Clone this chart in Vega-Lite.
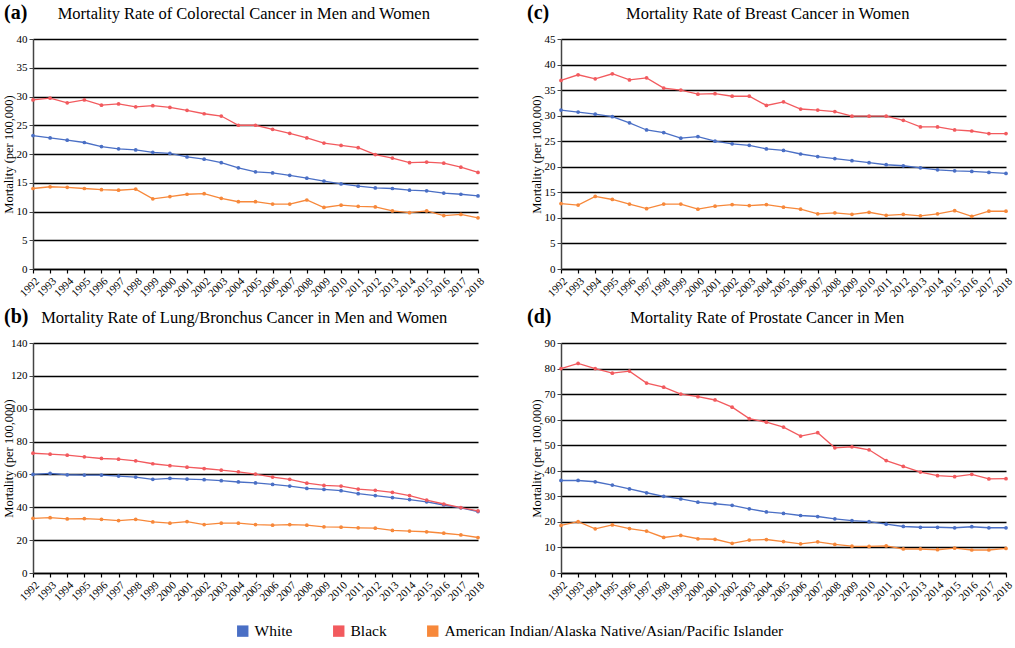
{
"$schema": "https://vega.github.io/schema/vega-lite/v6.json",
"padding": {"left": 2, "top": 3, "right": 2, "bottom": 0},
"background": "white",
"datasets": {
"colorectal": [
{"year":1992,"race":"White","rate":23.2},{"year":1993,"race":"White","rate":22.8},{"year":1994,"race":"White","rate":22.4},{"year":1995,"race":"White","rate":22.0},{"year":1996,"race":"White","rate":21.3},{"year":1997,"race":"White","rate":20.9},{"year":1998,"race":"White","rate":20.7},{"year":1999,"race":"White","rate":20.3},{"year":2000,"race":"White","rate":20.1},{"year":2001,"race":"White","rate":19.5},{"year":2002,"race":"White","rate":19.1},{"year":2003,"race":"White","rate":18.5},{"year":2004,"race":"White","rate":17.6},{"year":2005,"race":"White","rate":16.9},{"year":2006,"race":"White","rate":16.7},{"year":2007,"race":"White","rate":16.3},{"year":2008,"race":"White","rate":15.8},{"year":2009,"race":"White","rate":15.3},{"year":2010,"race":"White","rate":14.8},{"year":2011,"race":"White","rate":14.4},{"year":2012,"race":"White","rate":14.1},{"year":2013,"race":"White","rate":14.0},{"year":2014,"race":"White","rate":13.7},{"year":2015,"race":"White","rate":13.6},{"year":2016,"race":"White","rate":13.2},{"year":2017,"race":"White","rate":13.0},{"year":2018,"race":"White","rate":12.7},
{"year":1992,"race":"Black","rate":29.4},{"year":1993,"race":"Black","rate":29.7},{"year":1994,"race":"Black","rate":28.9},{"year":1995,"race":"Black","rate":29.4},{"year":1996,"race":"Black","rate":28.5},{"year":1997,"race":"Black","rate":28.7},{"year":1998,"race":"Black","rate":28.2},{"year":1999,"race":"Black","rate":28.4},{"year":2000,"race":"Black","rate":28.1},{"year":2001,"race":"Black","rate":27.6},{"year":2002,"race":"Black","rate":27.0},{"year":2003,"race":"Black","rate":26.6},{"year":2004,"race":"Black","rate":25.0},{"year":2005,"race":"Black","rate":25.0},{"year":2006,"race":"Black","rate":24.3},{"year":2007,"race":"Black","rate":23.6},{"year":2008,"race":"Black","rate":22.8},{"year":2009,"race":"Black","rate":21.9},{"year":2010,"race":"Black","rate":21.5},{"year":2011,"race":"Black","rate":21.1},{"year":2012,"race":"Black","rate":19.9},{"year":2013,"race":"Black","rate":19.3},{"year":2014,"race":"Black","rate":18.5},{"year":2015,"race":"Black","rate":18.6},{"year":2016,"race":"Black","rate":18.4},{"year":2017,"race":"Black","rate":17.7},{"year":2018,"race":"Black","rate":16.8},
{"year":1992,"race":"American Indian/Alaska Native/Asian/Pacific Islander","rate":14.0},{"year":1993,"race":"American Indian/Alaska Native/Asian/Pacific Islander","rate":14.3},{"year":1994,"race":"American Indian/Alaska Native/Asian/Pacific Islander","rate":14.2},{"year":1995,"race":"American Indian/Alaska Native/Asian/Pacific Islander","rate":14.0},{"year":1996,"race":"American Indian/Alaska Native/Asian/Pacific Islander","rate":13.8},{"year":1997,"race":"American Indian/Alaska Native/Asian/Pacific Islander","rate":13.7},{"year":1998,"race":"American Indian/Alaska Native/Asian/Pacific Islander","rate":13.9},{"year":1999,"race":"American Indian/Alaska Native/Asian/Pacific Islander","rate":12.2},{"year":2000,"race":"American Indian/Alaska Native/Asian/Pacific Islander","rate":12.6},{"year":2001,"race":"American Indian/Alaska Native/Asian/Pacific Islander","rate":13.0},{"year":2002,"race":"American Indian/Alaska Native/Asian/Pacific Islander","rate":13.1},{"year":2003,"race":"American Indian/Alaska Native/Asian/Pacific Islander","rate":12.3},{"year":2004,"race":"American Indian/Alaska Native/Asian/Pacific Islander","rate":11.7},{"year":2005,"race":"American Indian/Alaska Native/Asian/Pacific Islander","rate":11.7},{"year":2006,"race":"American Indian/Alaska Native/Asian/Pacific Islander","rate":11.3},{"year":2007,"race":"American Indian/Alaska Native/Asian/Pacific Islander","rate":11.3},{"year":2008,"race":"American Indian/Alaska Native/Asian/Pacific Islander","rate":12.0},{"year":2009,"race":"American Indian/Alaska Native/Asian/Pacific Islander","rate":10.7},{"year":2010,"race":"American Indian/Alaska Native/Asian/Pacific Islander","rate":11.1},{"year":2011,"race":"American Indian/Alaska Native/Asian/Pacific Islander","rate":10.9},{"year":2012,"race":"American Indian/Alaska Native/Asian/Pacific Islander","rate":10.8},{"year":2013,"race":"American Indian/Alaska Native/Asian/Pacific Islander","rate":10.1},{"year":2014,"race":"American Indian/Alaska Native/Asian/Pacific Islander","rate":9.8},{"year":2015,"race":"American Indian/Alaska Native/Asian/Pacific Islander","rate":10.1},{"year":2016,"race":"American Indian/Alaska Native/Asian/Pacific Islander","rate":9.3},{"year":2017,"race":"American Indian/Alaska Native/Asian/Pacific Islander","rate":9.5},{"year":2018,"race":"American Indian/Alaska Native/Asian/Pacific Islander","rate":8.9}
],
"lung": [
{"year":1992,"race":"White","rate":60.0},{"year":1993,"race":"White","rate":60.6},{"year":1994,"race":"White","rate":59.8},{"year":1995,"race":"White","rate":59.6},{"year":1996,"race":"White","rate":59.6},{"year":1997,"race":"White","rate":59.0},{"year":1998,"race":"White","rate":58.4},{"year":1999,"race":"White","rate":57.0},{"year":2000,"race":"White","rate":57.6},{"year":2001,"race":"White","rate":57.2},{"year":2002,"race":"White","rate":56.8},{"year":2003,"race":"White","rate":56.2},{"year":2004,"race":"White","rate":55.4},{"year":2005,"race":"White","rate":54.8},{"year":2006,"race":"White","rate":53.9},{"year":2007,"race":"White","rate":52.9},{"year":2008,"race":"White","rate":51.5},{"year":2009,"race":"White","rate":50.9},{"year":2010,"race":"White","rate":50.1},{"year":2011,"race":"White","rate":48.3},{"year":2012,"race":"White","rate":47.1},{"year":2013,"race":"White","rate":45.9},{"year":2014,"race":"White","rate":44.7},{"year":2015,"race":"White","rate":43.3},{"year":2016,"race":"White","rate":41.4},{"year":2017,"race":"White","rate":39.6},{"year":2018,"race":"White","rate":37.4},
{"year":1992,"race":"Black","rate":72.9},{"year":1993,"race":"Black","rate":72.3},{"year":1994,"race":"Black","rate":71.7},{"year":1995,"race":"Black","rate":70.7},{"year":1996,"race":"Black","rate":69.7},{"year":1997,"race":"Black","rate":69.3},{"year":1998,"race":"Black","rate":68.3},{"year":1999,"race":"Black","rate":66.5},{"year":2000,"race":"Black","rate":65.3},{"year":2001,"race":"Black","rate":64.4},{"year":2002,"race":"Black","rate":63.6},{"year":2003,"race":"Black","rate":62.6},{"year":2004,"race":"Black","rate":61.6},{"year":2005,"race":"Black","rate":60.2},{"year":2006,"race":"Black","rate":58.4},{"year":2007,"race":"Black","rate":57.0},{"year":2008,"race":"Black","rate":54.7},{"year":2009,"race":"Black","rate":53.3},{"year":2010,"race":"Black","rate":52.9},{"year":2011,"race":"Black","rate":51.1},{"year":2012,"race":"Black","rate":50.3},{"year":2013,"race":"Black","rate":49.1},{"year":2014,"race":"Black","rate":47.1},{"year":2015,"race":"Black","rate":44.4},{"year":2016,"race":"Black","rate":42.0},{"year":2017,"race":"Black","rate":39.8},{"year":2018,"race":"Black","rate":37.8},
{"year":1992,"race":"American Indian/Alaska Native/Asian/Pacific Islander","rate":33.3},{"year":1993,"race":"American Indian/Alaska Native/Asian/Pacific Islander","rate":33.7},{"year":1994,"race":"American Indian/Alaska Native/Asian/Pacific Islander","rate":32.9},{"year":1995,"race":"American Indian/Alaska Native/Asian/Pacific Islander","rate":33.1},{"year":1996,"race":"American Indian/Alaska Native/Asian/Pacific Islander","rate":32.7},{"year":1997,"race":"American Indian/Alaska Native/Asian/Pacific Islander","rate":31.9},{"year":1998,"race":"American Indian/Alaska Native/Asian/Pacific Islander","rate":32.7},{"year":1999,"race":"American Indian/Alaska Native/Asian/Pacific Islander","rate":31.1},{"year":2000,"race":"American Indian/Alaska Native/Asian/Pacific Islander","rate":30.3},{"year":2001,"race":"American Indian/Alaska Native/Asian/Pacific Islander","rate":31.3},{"year":2002,"race":"American Indian/Alaska Native/Asian/Pacific Islander","rate":29.5},{"year":2003,"race":"American Indian/Alaska Native/Asian/Pacific Islander","rate":30.3},{"year":2004,"race":"American Indian/Alaska Native/Asian/Pacific Islander","rate":30.3},{"year":2005,"race":"American Indian/Alaska Native/Asian/Pacific Islander","rate":29.5},{"year":2006,"race":"American Indian/Alaska Native/Asian/Pacific Islander","rate":29.1},{"year":2007,"race":"American Indian/Alaska Native/Asian/Pacific Islander","rate":29.5},{"year":2008,"race":"American Indian/Alaska Native/Asian/Pacific Islander","rate":29.1},{"year":2009,"race":"American Indian/Alaska Native/Asian/Pacific Islander","rate":28.1},{"year":2010,"race":"American Indian/Alaska Native/Asian/Pacific Islander","rate":27.9},{"year":2011,"race":"American Indian/Alaska Native/Asian/Pacific Islander","rate":27.5},{"year":2012,"race":"American Indian/Alaska Native/Asian/Pacific Islander","rate":27.3},{"year":2013,"race":"American Indian/Alaska Native/Asian/Pacific Islander","rate":25.9},{"year":2014,"race":"American Indian/Alaska Native/Asian/Pacific Islander","rate":25.5},{"year":2015,"race":"American Indian/Alaska Native/Asian/Pacific Islander","rate":25.1},{"year":2016,"race":"American Indian/Alaska Native/Asian/Pacific Islander","rate":24.2},{"year":2017,"race":"American Indian/Alaska Native/Asian/Pacific Islander","rate":23.2},{"year":2018,"race":"American Indian/Alaska Native/Asian/Pacific Islander","rate":21.6}
],
"breast": [
{"year":1992,"race":"White","rate":31.1},{"year":1993,"race":"White","rate":30.7},{"year":1994,"race":"White","rate":30.3},{"year":1995,"race":"White","rate":29.8},{"year":1996,"race":"White","rate":28.6},{"year":1997,"race":"White","rate":27.2},{"year":1998,"race":"White","rate":26.7},{"year":1999,"race":"White","rate":25.6},{"year":2000,"race":"White","rate":25.9},{"year":2001,"race":"White","rate":25.0},{"year":2002,"race":"White","rate":24.5},{"year":2003,"race":"White","rate":24.2},{"year":2004,"race":"White","rate":23.5},{"year":2005,"race":"White","rate":23.2},{"year":2006,"race":"White","rate":22.5},{"year":2007,"race":"White","rate":22.0},{"year":2008,"race":"White","rate":21.6},{"year":2009,"race":"White","rate":21.2},{"year":2010,"race":"White","rate":20.8},{"year":2011,"race":"White","rate":20.4},{"year":2012,"race":"White","rate":20.2},{"year":2013,"race":"White","rate":19.8},{"year":2014,"race":"White","rate":19.4},{"year":2015,"race":"White","rate":19.2},{"year":2016,"race":"White","rate":19.1},{"year":2017,"race":"White","rate":18.9},{"year":2018,"race":"White","rate":18.7},
{"year":1992,"race":"Black","rate":36.9},{"year":1993,"race":"Black","rate":38.0},{"year":1994,"race":"Black","rate":37.2},{"year":1995,"race":"Black","rate":38.2},{"year":1996,"race":"Black","rate":37.0},{"year":1997,"race":"Black","rate":37.4},{"year":1998,"race":"Black","rate":35.4},{"year":1999,"race":"Black","rate":35.0},{"year":2000,"race":"Black","rate":34.2},{"year":2001,"race":"Black","rate":34.3},{"year":2002,"race":"Black","rate":33.8},{"year":2003,"race":"Black","rate":33.8},{"year":2004,"race":"Black","rate":32.0},{"year":2005,"race":"Black","rate":32.7},{"year":2006,"race":"Black","rate":31.3},{"year":2007,"race":"Black","rate":31.1},{"year":2008,"race":"Black","rate":30.8},{"year":2009,"race":"Black","rate":29.9},{"year":2010,"race":"Black","rate":29.9},{"year":2011,"race":"Black","rate":29.9},{"year":2012,"race":"Black","rate":29.1},{"year":2013,"race":"Black","rate":27.8},{"year":2014,"race":"Black","rate":27.8},{"year":2015,"race":"Black","rate":27.2},{"year":2016,"race":"Black","rate":27.0},{"year":2017,"race":"Black","rate":26.5},{"year":2018,"race":"Black","rate":26.5},
{"year":1992,"race":"American Indian/Alaska Native/Asian/Pacific Islander","rate":12.8},{"year":1993,"race":"American Indian/Alaska Native/Asian/Pacific Islander","rate":12.5},{"year":1994,"race":"American Indian/Alaska Native/Asian/Pacific Islander","rate":14.2},{"year":1995,"race":"American Indian/Alaska Native/Asian/Pacific Islander","rate":13.6},{"year":1996,"race":"American Indian/Alaska Native/Asian/Pacific Islander","rate":12.7},{"year":1997,"race":"American Indian/Alaska Native/Asian/Pacific Islander","rate":11.8},{"year":1998,"race":"American Indian/Alaska Native/Asian/Pacific Islander","rate":12.7},{"year":1999,"race":"American Indian/Alaska Native/Asian/Pacific Islander","rate":12.7},{"year":2000,"race":"American Indian/Alaska Native/Asian/Pacific Islander","rate":11.7},{"year":2001,"race":"American Indian/Alaska Native/Asian/Pacific Islander","rate":12.3},{"year":2002,"race":"American Indian/Alaska Native/Asian/Pacific Islander","rate":12.6},{"year":2003,"race":"American Indian/Alaska Native/Asian/Pacific Islander","rate":12.4},{"year":2004,"race":"American Indian/Alaska Native/Asian/Pacific Islander","rate":12.6},{"year":2005,"race":"American Indian/Alaska Native/Asian/Pacific Islander","rate":12.1},{"year":2006,"race":"American Indian/Alaska Native/Asian/Pacific Islander","rate":11.7},{"year":2007,"race":"American Indian/Alaska Native/Asian/Pacific Islander","rate":10.8},{"year":2008,"race":"American Indian/Alaska Native/Asian/Pacific Islander","rate":11.0},{"year":2009,"race":"American Indian/Alaska Native/Asian/Pacific Islander","rate":10.7},{"year":2010,"race":"American Indian/Alaska Native/Asian/Pacific Islander","rate":11.1},{"year":2011,"race":"American Indian/Alaska Native/Asian/Pacific Islander","rate":10.5},{"year":2012,"race":"American Indian/Alaska Native/Asian/Pacific Islander","rate":10.7},{"year":2013,"race":"American Indian/Alaska Native/Asian/Pacific Islander","rate":10.4},{"year":2014,"race":"American Indian/Alaska Native/Asian/Pacific Islander","rate":10.8},{"year":2015,"race":"American Indian/Alaska Native/Asian/Pacific Islander","rate":11.4},{"year":2016,"race":"American Indian/Alaska Native/Asian/Pacific Islander","rate":10.3},{"year":2017,"race":"American Indian/Alaska Native/Asian/Pacific Islander","rate":11.3},{"year":2018,"race":"American Indian/Alaska Native/Asian/Pacific Islander","rate":11.3}
],
"prostate": [
{"year":1992,"race":"White","rate":36.2},{"year":1993,"race":"White","rate":36.2},{"year":1994,"race":"White","rate":35.7},{"year":1995,"race":"White","rate":34.4},{"year":1996,"race":"White","rate":32.9},{"year":1997,"race":"White","rate":31.4},{"year":1998,"race":"White","rate":30.0},{"year":1999,"race":"White","rate":29.0},{"year":2000,"race":"White","rate":27.7},{"year":2001,"race":"White","rate":27.1},{"year":2002,"race":"White","rate":26.5},{"year":2003,"race":"White","rate":25.1},{"year":2004,"race":"White","rate":23.9},{"year":2005,"race":"White","rate":23.3},{"year":2006,"race":"White","rate":22.5},{"year":2007,"race":"White","rate":22.1},{"year":2008,"race":"White","rate":21.2},{"year":2009,"race":"White","rate":20.5},{"year":2010,"race":"White","rate":20.1},{"year":2011,"race":"White","rate":19.1},{"year":2012,"race":"White","rate":18.2},{"year":2013,"race":"White","rate":17.9},{"year":2014,"race":"White","rate":17.9},{"year":2015,"race":"White","rate":17.7},{"year":2016,"race":"White","rate":18.1},{"year":2017,"race":"White","rate":17.7},{"year":2018,"race":"White","rate":17.7},
{"year":1992,"race":"Black","rate":80.0},{"year":1993,"race":"Black","rate":82.0},{"year":1994,"race":"Black","rate":80.0},{"year":1995,"race":"Black","rate":78.2},{"year":1996,"race":"Black","rate":79.0},{"year":1997,"race":"Black","rate":74.3},{"year":1998,"race":"Black","rate":72.7},{"year":1999,"race":"Black","rate":70.0},{"year":2000,"race":"Black","rate":69.0},{"year":2001,"race":"Black","rate":67.7},{"year":2002,"race":"Black","rate":64.9},{"year":2003,"race":"Black","rate":60.4},{"year":2004,"race":"Black","rate":59.0},{"year":2005,"race":"Black","rate":57.1},{"year":2006,"race":"Black","rate":53.6},{"year":2007,"race":"Black","rate":54.9},{"year":2008,"race":"Black","rate":49.0},{"year":2009,"race":"Black","rate":49.4},{"year":2010,"race":"Black","rate":48.2},{"year":2011,"race":"Black","rate":44.0},{"year":2012,"race":"Black","rate":41.7},{"year":2013,"race":"Black","rate":39.5},{"year":2014,"race":"Black","rate":38.1},{"year":2015,"race":"Black","rate":37.7},{"year":2016,"race":"Black","rate":38.6},{"year":2017,"race":"Black","rate":36.8},{"year":2018,"race":"Black","rate":36.9},
{"year":1992,"race":"American Indian/Alaska Native/Asian/Pacific Islander","rate":18.6},{"year":1993,"race":"American Indian/Alaska Native/Asian/Pacific Islander","rate":20.1},{"year":1994,"race":"American Indian/Alaska Native/Asian/Pacific Islander","rate":17.3},{"year":1995,"race":"American Indian/Alaska Native/Asian/Pacific Islander","rate":18.8},{"year":1996,"race":"American Indian/Alaska Native/Asian/Pacific Islander","rate":17.4},{"year":1997,"race":"American Indian/Alaska Native/Asian/Pacific Islander","rate":16.4},{"year":1998,"race":"American Indian/Alaska Native/Asian/Pacific Islander","rate":13.9},{"year":1999,"race":"American Indian/Alaska Native/Asian/Pacific Islander","rate":14.7},{"year":2000,"race":"American Indian/Alaska Native/Asian/Pacific Islander","rate":13.4},{"year":2001,"race":"American Indian/Alaska Native/Asian/Pacific Islander","rate":13.2},{"year":2002,"race":"American Indian/Alaska Native/Asian/Pacific Islander","rate":11.6},{"year":2003,"race":"American Indian/Alaska Native/Asian/Pacific Islander","rate":12.9},{"year":2004,"race":"American Indian/Alaska Native/Asian/Pacific Islander","rate":13.1},{"year":2005,"race":"American Indian/Alaska Native/Asian/Pacific Islander","rate":12.3},{"year":2006,"race":"American Indian/Alaska Native/Asian/Pacific Islander","rate":11.4},{"year":2007,"race":"American Indian/Alaska Native/Asian/Pacific Islander","rate":12.2},{"year":2008,"race":"American Indian/Alaska Native/Asian/Pacific Islander","rate":11.2},{"year":2009,"race":"American Indian/Alaska Native/Asian/Pacific Islander","rate":10.5},{"year":2010,"race":"American Indian/Alaska Native/Asian/Pacific Islander","rate":10.4},{"year":2011,"race":"American Indian/Alaska Native/Asian/Pacific Islander","rate":10.6},{"year":2012,"race":"American Indian/Alaska Native/Asian/Pacific Islander","rate":9.4},{"year":2013,"race":"American Indian/Alaska Native/Asian/Pacific Islander","rate":9.4},{"year":2014,"race":"American Indian/Alaska Native/Asian/Pacific Islander","rate":9.1},{"year":2015,"race":"American Indian/Alaska Native/Asian/Pacific Islander","rate":9.7},{"year":2016,"race":"American Indian/Alaska Native/Asian/Pacific Islander","rate":9.0},{"year":2017,"race":"American Indian/Alaska Native/Asian/Pacific Islander","rate":9.0},{"year":2018,"race":"American Indian/Alaska Native/Asian/Pacific Islander","rate":9.6}
]
},
"columns": 2,
"spacing": {"row": 8, "column": 41},
"resolve": {"scale": {"color": "shared"}, "legend": {"color": "shared"}},
"concat": [
{
"width": 445, "height": 230,
"data": {"name": "colorectal"},
"title": {"text": "(a)", "dx": -29, "subtitle": "\u200b\u00a0\u00a0\u00a0\u00a0\u00a0\u00a0\u00a0\u00a0\u00a0\u00a0\u00a0\u00a0\u00a0Mortality Rate of Colorectal Cancer in Men and Women"},
"mark": {"type": "line", "strokeWidth": 1.3, "point": {"filled": true, "size": 14}},
"encoding": {
"x": {"field": "year", "type": "ordinal", "scale": {"type": "point", "padding": 0}, "axis": {"title": null}},
"y": {"field": "rate", "type": "quantitative", "scale": {"domain": [0, 40]}, "axis": {"values": [0,5,10,15,20,25,30,35,40], "title": "Mortality (per 100,000)"}},
"color": {"field": "race", "type": "nominal", "scale": {"domain": ["White","Black","American Indian/Alaska Native/Asian/Pacific Islander"], "range": ["#4a6fc5","#f25a5e","#f7883a"]},
"legend": {"title": null, "orient": "none", "direction": "horizontal", "legendX": 202, "legendY": 584}}
}
},
{
"width": 445, "height": 230,
"data": {"name": "breast"},
"title": {"text": "(c)", "dx": -34, "subtitle": "\u200b\u00a0\u00a0\u00a0\u00a0\u00a0\u00a0\u00a0\u00a0\u00a0\u00a0\u00a0\u00a0\u00a0\u00a0\u00a0\u00a0\u00a0\u00a0\u00a0\u00a0\u00a0\u00a0\u00a0\u00a0Mortality Rate of Breast Cancer in Women"},
"mark": {"type": "line", "strokeWidth": 1.3, "point": {"filled": true, "size": 14}},
"encoding": {
"x": {"field": "year", "type": "ordinal", "scale": {"type": "point", "padding": 0}, "axis": {"title": null}},
"y": {"field": "rate", "type": "quantitative", "scale": {"domain": [0, 45]}, "axis": {"values": [0,5,10,15,20,25,30,35,40,45], "title": "Mortality (per 100,000)"}},
"color": {"field": "race", "type": "nominal", "scale": {"domain": ["White","Black","American Indian/Alaska Native/Asian/Pacific Islander"], "range": ["#4a6fc5","#f25a5e","#f7883a"]},
"legend": {"title": null, "orient": "none", "direction": "horizontal", "legendX": 202, "legendY": 584}}
}
},
{
"width": 445, "height": 230,
"data": {"name": "lung"},
"title": {"text": "(b)", "dx": -29, "subtitle": "\u200b\u00a0\u00a0\u00a0\u00a0\u00a0\u00a0\u00a0\u00a0\u00a0Mortality Rate of Lung/Bronchus Cancer in Men and Women"},
"mark": {"type": "line", "strokeWidth": 1.3, "point": {"filled": true, "size": 14}},
"encoding": {
"x": {"field": "year", "type": "ordinal", "scale": {"type": "point", "padding": 0}, "axis": {"title": null}},
"y": {"field": "rate", "type": "quantitative", "scale": {"domain": [0, 140]}, "axis": {"values": [0,20,40,60,80,100,120,140], "title": "Mortality (per 100,000)"}},
"color": {"field": "race", "type": "nominal", "scale": {"domain": ["White","Black","American Indian/Alaska Native/Asian/Pacific Islander"], "range": ["#4a6fc5","#f25a5e","#f7883a"]},
"legend": {"title": null, "orient": "none", "direction": "horizontal", "legendX": 202, "legendY": 584}}
}
},
{
"width": 445, "height": 230,
"data": {"name": "prostate"},
"title": {"text": "(d)", "dx": -34, "subtitle": "\u200b\u00a0\u00a0\u00a0\u00a0\u00a0\u00a0\u00a0\u00a0\u00a0\u00a0\u00a0\u00a0\u00a0\u00a0\u00a0\u00a0\u00a0\u00a0\u00a0\u00a0\u00a0\u00a0\u00a0\u00a0\u00a0Mortality Rate of Prostate Cancer in Men"},
"mark": {"type": "line", "strokeWidth": 1.3, "point": {"filled": true, "size": 14}},
"encoding": {
"x": {"field": "year", "type": "ordinal", "scale": {"type": "point", "padding": 0}, "axis": {"title": null}},
"y": {"field": "rate", "type": "quantitative", "scale": {"domain": [0, 90]}, "axis": {"values": [0,10,20,30,40,50,60,70,80,90], "title": "Mortality (per 100,000)"}},
"color": {"field": "race", "type": "nominal", "scale": {"domain": ["White","Black","American Indian/Alaska Native/Asian/Pacific Islander"], "range": ["#4a6fc5","#f25a5e","#f7883a"]},
"legend": {"title": null, "orient": "none", "direction": "horizontal", "legendX": 202, "legendY": 584}}
}
}
],
"config": {
"font": "Liberation Serif",
"view": {"stroke": null},
"title": {"anchor": "start", "frame": "group", "fontSize": 20, "fontWeight": "bold", "color": "black", "subtitleFontSize": 16.5, "subtitleColor": "black", "subtitlePadding": -17, "offset": 10, "font": "Liberation Serif", "subtitleFont": "Liberation Serif"},
"axis": {"labelFont": "Liberation Serif", "titleFont": "Liberation Serif", "labelColor": "black", "titleColor": "black", "labelFontSize": 11},
"axisX": {"grid": false, "domainColor": "black", "domainWidth": 1.5, "tickColor": "black", "tickSize": 4, "tickWidth": 1.2, "labelAngle": -45, "labelPadding": 2, "labelFontSize": 11},
"axisY": {"grid": true, "gridColor": "black", "gridWidth": 1.4, "gridOpacity": 1, "domainColor": "#444", "domainWidth": 1.5, "tickColor": "#444", "tickSize": 4, "labelPadding": 2, "titleFontSize": 12.5, "titleFontWeight": "normal", "titleX": -18},
"legend": {"symbolType": "square", "symbolSize": 130, "symbolStrokeWidth": 0, "labelFontSize": 15.5, "labelLimit": 0, "labelColor": "black", "labelFont": "Liberation Serif", "labelOffset": 4, "columnPadding": 38, "padding": 0}
}
}
